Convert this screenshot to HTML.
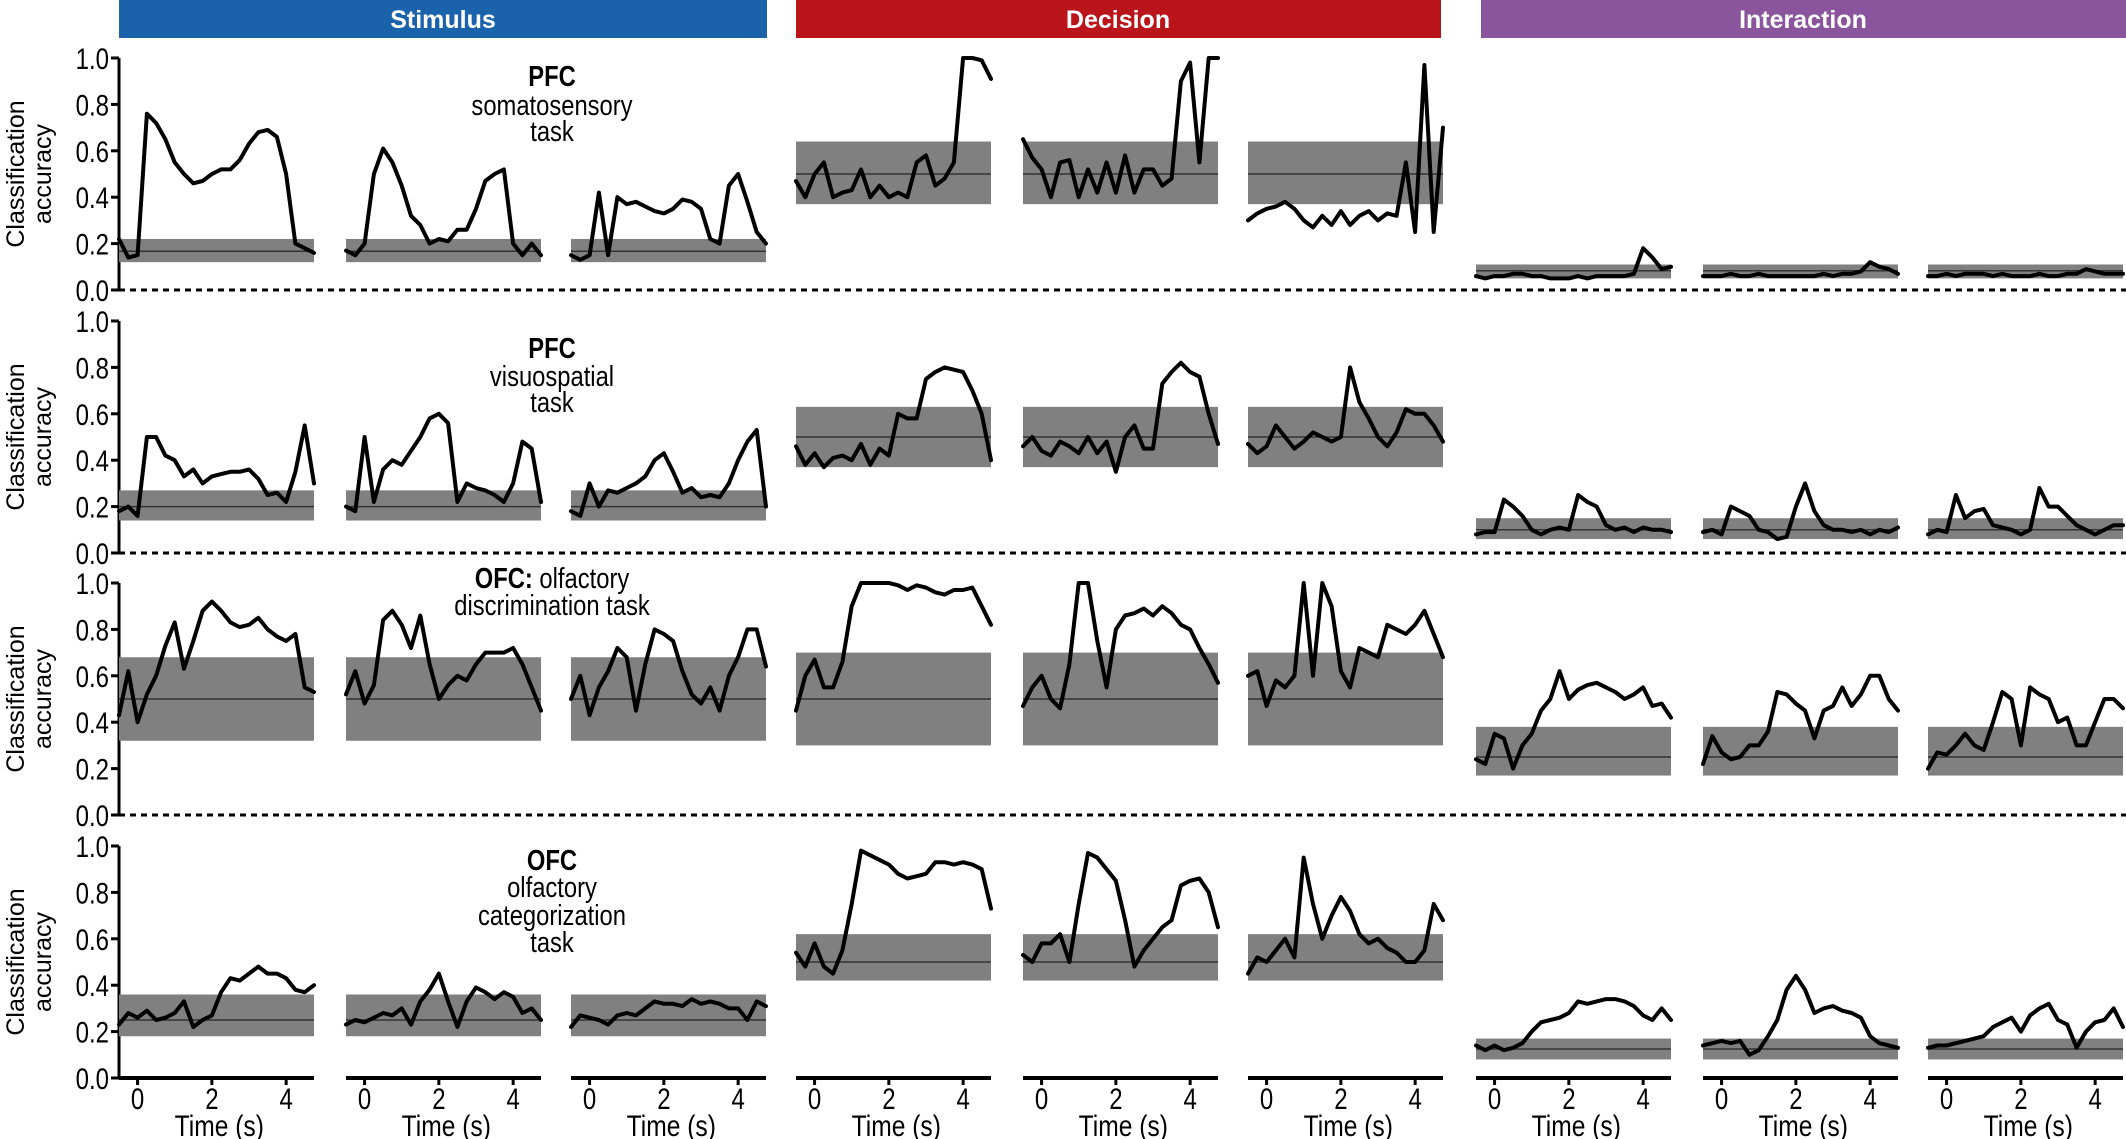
<!DOCTYPE html>
<html><head><meta charset="utf-8">
<style>
html,body{margin:0;padding:0;background:#fff;}
svg{display:block;}
text{font-family:"Liberation Sans",sans-serif;}
</style></head>
<body>
<svg id="chart" xmlns="http://www.w3.org/2000/svg" width="2126" height="1139" viewBox="0 0 2126 1139">
  <rect x="119" y="0" width="648" height="38" fill="#1a62aa"/>
  <text x="443" y="28" text-anchor="middle" font-size="25" font-weight="bold" fill="#fff">Stimulus</text>
  <rect x="796" y="0" width="645" height="38" fill="#b9151b"/>
  <text x="1118" y="28" text-anchor="middle" font-size="25" font-weight="bold" fill="#fff">Decision</text>
  <rect x="1481" y="0" width="645" height="38" fill="#8a559c"/>
  <text x="1803" y="28" text-anchor="middle" font-size="25" font-weight="bold" fill="#fff">Interaction</text>
  <g id="plots"></g>
</svg>
<script>
// time axis samples (s)
const times = [-0.5,-0.25,0,0.25,0.5,0.75,1,1.25,1.5,1.75,2,2.25,2.5,2.75,3,3.25,3.5,3.75,4,4.25,4.5,4.75];
const yTicks = [0, 0.2, 0.4, 0.6, 0.8, 1.0];
const yTickLabels = ["0.0","0.2","0.4","0.6","0.8","1.0"];
const xTicks = [0, 2, 4];
const xTickLabels = ["0","2","4"];
const groups = ["stimulus","decision","interaction"];

// chance levels [row][group]
const chance = [[0.167,0.5,0.083],[0.2,0.5,0.1],[0.5,0.5,0.25],[0.25,0.5,0.125]];
const bandLo = [[0.12,0.37,0.05],[0.14,0.37,0.06],[0.32,0.3,0.17],[0.18,0.42,0.08]];
const bandHi = [[0.22,0.64,0.11],[0.27,0.63,0.15],[0.68,0.7,0.38],[0.36,0.62,0.17]];

// Row 1: PFC somatosensory
const r1s1 = [0.22,0.14,0.15,0.76,0.72,0.65,0.55,0.5,0.46,0.47,0.5,0.52,0.52,0.56,0.63,0.68,0.69,0.66,0.5,0.2,0.18,0.16];
const r1s2 = [0.17,0.15,0.2,0.5,0.61,0.55,0.45,0.32,0.28,0.2,0.22,0.21,0.26,0.26,0.35,0.47,0.5,0.52,0.2,0.15,0.2,0.15];
const r1s3 = [0.15,0.13,0.15,0.42,0.15,0.4,0.37,0.38,0.36,0.34,0.33,0.35,0.39,0.38,0.35,0.22,0.2,0.45,0.5,0.38,0.25,0.2];
const r1d1 = [0.47,0.4,0.5,0.55,0.4,0.42,0.43,0.52,0.4,0.45,0.4,0.42,0.4,0.55,0.58,0.45,0.48,0.55,1.0,1.0,0.99,0.91];
const r1d2 = [0.65,0.57,0.52,0.4,0.55,0.56,0.4,0.52,0.42,0.55,0.42,0.58,0.42,0.52,0.52,0.45,0.48,0.9,0.98,0.55,1.0,1.0];
const r1d3 = [0.3,0.33,0.35,0.36,0.38,0.35,0.3,0.27,0.32,0.28,0.34,0.28,0.32,0.34,0.3,0.33,0.32,0.55,0.25,0.97,0.25,0.7];
const r1i1 = [0.06,0.05,0.06,0.06,0.07,0.07,0.06,0.06,0.05,0.05,0.05,0.06,0.05,0.06,0.06,0.06,0.06,0.07,0.18,0.14,0.09,0.1];
const r1i2 = [0.06,0.06,0.06,0.07,0.06,0.06,0.07,0.06,0.06,0.06,0.06,0.06,0.06,0.07,0.06,0.07,0.07,0.08,0.12,0.1,0.09,0.07];
const r1i3 = [0.06,0.06,0.07,0.06,0.07,0.07,0.07,0.06,0.07,0.06,0.06,0.06,0.07,0.06,0.06,0.07,0.07,0.09,0.08,0.07,0.07,0.07];
// Row 2: PFC visuospatial
const r2s1 = [0.18,0.2,0.16,0.5,0.5,0.42,0.4,0.33,0.36,0.3,0.33,0.34,0.35,0.35,0.36,0.32,0.25,0.26,0.22,0.35,0.55,0.3];
const r2s2 = [0.2,0.18,0.5,0.22,0.36,0.4,0.38,0.44,0.5,0.58,0.6,0.56,0.22,0.3,0.28,0.27,0.25,0.22,0.3,0.48,0.45,0.22];
const r2s3 = [0.18,0.16,0.3,0.2,0.27,0.26,0.28,0.3,0.33,0.4,0.43,0.35,0.26,0.28,0.24,0.25,0.24,0.3,0.4,0.48,0.53,0.2];
const r2d1 = [0.46,0.38,0.43,0.37,0.41,0.42,0.4,0.47,0.38,0.45,0.42,0.6,0.58,0.58,0.75,0.78,0.8,0.79,0.78,0.7,0.6,0.4];
const r2d2 = [0.46,0.5,0.44,0.42,0.48,0.46,0.43,0.5,0.43,0.48,0.35,0.5,0.55,0.45,0.45,0.73,0.78,0.82,0.78,0.76,0.6,0.47];
const r2d3 = [0.47,0.43,0.46,0.55,0.5,0.45,0.48,0.52,0.5,0.48,0.5,0.8,0.65,0.58,0.5,0.46,0.52,0.62,0.6,0.6,0.55,0.48];
const r2i1 = [0.08,0.09,0.09,0.23,0.2,0.16,0.1,0.08,0.1,0.11,0.1,0.25,0.22,0.2,0.12,0.1,0.11,0.09,0.11,0.1,0.1,0.09];
const r2i2 = [0.09,0.1,0.08,0.2,0.18,0.16,0.1,0.09,0.06,0.07,0.2,0.3,0.18,0.12,0.1,0.1,0.09,0.1,0.08,0.1,0.09,0.11];
const r2i3 = [0.08,0.1,0.09,0.25,0.15,0.18,0.19,0.12,0.11,0.1,0.08,0.1,0.28,0.2,0.2,0.16,0.12,0.1,0.08,0.1,0.12,0.12];
// Row 3: OFC olfactory discrimination
const r3s1 = [0.43,0.62,0.4,0.52,0.6,0.73,0.83,0.63,0.75,0.88,0.92,0.88,0.83,0.81,0.82,0.85,0.8,0.77,0.75,0.78,0.55,0.53];
const r3s2 = [0.52,0.62,0.48,0.56,0.84,0.88,0.82,0.72,0.86,0.65,0.5,0.56,0.6,0.58,0.65,0.7,0.7,0.7,0.72,0.65,0.55,0.45];
const r3s3 = [0.5,0.6,0.43,0.55,0.62,0.72,0.68,0.45,0.65,0.8,0.78,0.75,0.62,0.52,0.48,0.55,0.45,0.6,0.68,0.8,0.8,0.64];
const r3d1 = [0.45,0.6,0.67,0.55,0.55,0.66,0.9,1.0,1.0,1.0,1.0,0.99,0.97,0.99,0.98,0.96,0.95,0.97,0.97,0.98,0.9,0.82];
const r3d2 = [0.47,0.55,0.6,0.5,0.46,0.65,1.0,1.0,0.75,0.55,0.8,0.86,0.87,0.89,0.86,0.9,0.87,0.82,0.8,0.72,0.65,0.57];
const r3d3 = [0.6,0.62,0.47,0.58,0.55,0.6,1.0,0.6,1.0,0.9,0.62,0.55,0.72,0.7,0.68,0.82,0.8,0.78,0.82,0.88,0.78,0.68];
const r3i1 = [0.24,0.22,0.35,0.33,0.2,0.3,0.35,0.45,0.5,0.62,0.5,0.54,0.56,0.57,0.55,0.53,0.5,0.52,0.55,0.47,0.48,0.42];
const r3i2 = [0.22,0.34,0.27,0.24,0.25,0.3,0.3,0.36,0.53,0.52,0.48,0.45,0.33,0.45,0.47,0.55,0.47,0.52,0.6,0.6,0.5,0.45];
const r3i3 = [0.2,0.27,0.26,0.3,0.35,0.3,0.28,0.4,0.53,0.5,0.3,0.55,0.52,0.5,0.4,0.42,0.3,0.3,0.4,0.5,0.5,0.46];
// Row 4: OFC olfactory categorization
const r4s1 = [0.23,0.28,0.26,0.29,0.25,0.26,0.28,0.33,0.22,0.25,0.27,0.37,0.43,0.42,0.45,0.48,0.45,0.45,0.43,0.38,0.37,0.4];
const r4s2 = [0.23,0.25,0.24,0.26,0.28,0.27,0.3,0.23,0.33,0.38,0.45,0.33,0.22,0.33,0.39,0.37,0.34,0.37,0.35,0.28,0.3,0.25];
const r4s3 = [0.22,0.27,0.26,0.25,0.23,0.27,0.28,0.27,0.3,0.33,0.32,0.32,0.31,0.34,0.32,0.33,0.32,0.3,0.3,0.25,0.33,0.31];
const r4d1 = [0.54,0.48,0.58,0.48,0.45,0.55,0.75,0.98,0.96,0.94,0.92,0.88,0.86,0.87,0.88,0.93,0.93,0.92,0.93,0.92,0.9,0.73];
const r4d2 = [0.53,0.5,0.58,0.58,0.62,0.5,0.75,0.97,0.95,0.9,0.85,0.68,0.48,0.55,0.6,0.65,0.68,0.83,0.85,0.86,0.8,0.65];
const r4d3 = [0.45,0.52,0.5,0.55,0.6,0.52,0.95,0.75,0.6,0.7,0.78,0.72,0.62,0.58,0.6,0.56,0.54,0.5,0.5,0.55,0.75,0.68];
const r4i1 = [0.14,0.12,0.14,0.12,0.13,0.15,0.2,0.24,0.25,0.26,0.28,0.33,0.32,0.33,0.34,0.34,0.33,0.31,0.27,0.25,0.3,0.25];
const r4i2 = [0.14,0.15,0.16,0.15,0.16,0.1,0.12,0.18,0.25,0.38,0.44,0.38,0.28,0.3,0.31,0.29,0.28,0.26,0.18,0.15,0.14,0.13];
const r4i3 = [0.13,0.14,0.14,0.15,0.16,0.17,0.18,0.22,0.24,0.26,0.2,0.27,0.3,0.32,0.25,0.23,0.13,0.2,0.24,0.25,0.3,0.22];

const series = [
  [r1s1,r1s2,r1s3,r1d1,r1d2,r1d3,r1i1,r1i2,r1i3],
  [r2s1,r2s2,r2s3,r2d1,r2d2,r2d3,r2i1,r2i2,r2i3],
  [r3s1,r3s2,r3s3,r3d1,r3d2,r3d3,r3i1,r3i2,r3i3],
  [r4s1,r4s2,r4s3,r4d1,r4d2,r4d3,r4i1,r4i2,r4i3]
];

// layout
const NS = "http://www.w3.org/2000/svg";
const groupX = [119, 796, 1476];
const panelOff = [0, 227, 452];
const rowY0 = [290, 553, 815, 1078];
const H = 232;
const PXS = 195 / 5.25;
const root = document.getElementById('plots');

function xPos(p, t){ return p + (t + 0.5) * PXS; }
function yPos(r, v){ return rowY0[r] - v * H; }
function mk(tag, attrs, parent){
  const e = document.createElementNS(NS, tag);
  for (const k in attrs) e.setAttribute(k, attrs[k]);
  (parent || root).appendChild(e);
  return e;
}

for (let r = 0; r < 4; r++){
  const ax = mk('line', {x1:119, y1:yPos(r,1), x2:119, y2:rowY0[r], stroke:'#000', 'stroke-width':3});
  
  
  yTicks.forEach((v, i) => {
    const tk = mk('line', {x1:111, y1:yPos(r,v), x2:119, y2:yPos(r,v), stroke:'#000', 'stroke-width':3});
    
    
    const tl = mk('text', {x:0, y:0, 'font-size':30, 'text-anchor':'end', transform:'translate(109,' + (yPos(r,v)+11) + ') scale(0.8,1)'});
    tl.textContent = yTickLabels[i];
    
    
  });
  const cy = rowY0[r] - H/2;
  const yl = mk('text', {x:0, y:0, 'font-size':25, 'text-anchor':'middle', transform:'translate(24,' + cy + ') rotate(-90)'});
  yl.textContent = 'Classification';
  
  
  const yl2 = mk('text', {x:0, y:0, 'font-size':25, 'text-anchor':'middle', transform:'translate(51,' + cy + ') rotate(-90)'});
  yl2.textContent = 'accuracy';
  
  

  if (r < 3){
    const dl = mk('line', {x1:119, y1:rowY0[r], x2:2126, y2:rowY0[r], stroke:'#000', 'stroke-width':3, 'stroke-dasharray':'6 5'});
    
    
  }

  for (let g = 0; g < 3; g++){
    for (let p = 0; p < 3; p++){
      const px = groupX[g] + panelOff[p];
      const data = series[r][g*3+p];
      const x0 = xPos(px, times[0]), x1 = xPos(px, times[times.length-1]);
      const band = mk('rect', {x:x0, y:yPos(r, bandHi[r][g]), width:x1-x0, height:(bandHi[r][g]-bandLo[r][g])*H, fill:'#808080'});
      
      
      const cl = mk('line', {x1:x0, y1:yPos(r, chance[r][g]), x2:x1, y2:yPos(r, chance[r][g]), stroke:'#333', 'stroke-width':1.5});
      
      
      const d = data.map((v, i) => (i ? 'L' : 'M') + xPos(px, times[i]).toFixed(1) + ' ' + yPos(r, v).toFixed(1)).join(' ');
      const ln = mk('path', {d:d, fill:'none', stroke:'#000', 'stroke-width':4, 'stroke-linejoin':'round', 'stroke-linecap':'round'});
      
      

      if (r === 3){
        const xa = mk('line', {x1:x0, y1:rowY0[r], x2:x1, y2:rowY0[r], stroke:'#000', 'stroke-width':4});
        
        
        xTicks.forEach((t, i) => {
          const tk = mk('line', {x1:xPos(px,t), y1:rowY0[r], x2:xPos(px,t), y2:rowY0[r]+7, stroke:'#000', 'stroke-width':3});
          
          
          const tl = mk('text', {x:0, y:0, 'font-size':30, 'text-anchor':'middle', transform:'translate(' + xPos(px,t) + ',1109) scale(0.8,1)'});
          tl.textContent = xTickLabels[i];
          
          
        });
        const xt = mk('text', {x:0, y:0, 'font-size':30, 'text-anchor':'middle', transform:'translate(' + xPos(px,2.2) + ',1136) scale(0.82,1)'});
        xt.textContent = 'Time (s)';
        
        
      }
    }
  }
}

// row annotations
const notes = [
  [[86,'PFC',true],[115,'somatosensory',false],[141,'task',false]],
  [[358,'PFC',true],[386,'visuospatial',false],[412,'task',false]],
  [[588,null,false],[615,'discrimination task',false]],
  [[870,'OFC',true],[897,'olfactory',false],[925,'categorization',false],[952,'task',false]]
];
notes.forEach((lines, r) => {
  lines.forEach(([y, txt, bold]) => {
    const t = mk('text', {x:0, y:0, 'font-size':29, 'text-anchor':'middle', 'font-weight':bold?'bold':'normal', transform:'translate(552,' + y + ') scale(0.82,1)'});
    if (txt === null){
      const b = document.createElementNS(NS,'tspan'); b.setAttribute('font-weight','bold'); b.textContent = 'OFC:'; t.appendChild(b);
      const n = document.createElementNS(NS,'tspan'); n.textContent = ' olfactory'; t.appendChild(n);
    } else t.textContent = txt;
    
    
  });
});
</script>
</body></html>
